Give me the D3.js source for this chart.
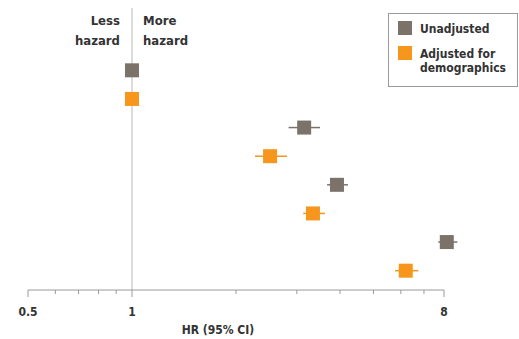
<!DOCTYPE html>
<html>
<head>
<meta charset="utf-8">
<script src="https://cdn.jsdelivr.net/npm/d3@7"></script>
<style>
    body { margin: 0; background: #fff; }
    svg text { font-family: "DejaVu Sans Condensed", "DejaVu Sans", sans-serif; fill: #333; }
</style>
</head>
<body>
<svg id="chart" width="519" height="339"></svg>
<script>
// Rows of the forest plot (row labels are cut off in the source picture)
const categories = ['Reference', 'Group 2', 'Group 3', 'Group 4'];
const seriesNames = ['Unadjusted', 'Adjusted for demographics'];

// Hazard ratios with 95% CI, one array per series
const unadjustedHR = [1, 3.15, 3.92, 8.15];
const unadjustedLow = [1, 2.84, 3.67, 7.7];
const unadjustedHigh = [1, 3.5, 4.22, 8.75];

const adjustedHR = [1, 2.51, 3.34, 6.2];
const adjustedLow = [1, 2.27, 3.13, 5.77];
const adjustedHigh = [1, 2.81, 3.62, 6.74];

const majorTicks = [0.5, 1, 8];
const minorTicks = [0.6, 0.7, 0.8, 0.9, 2, 3, 4, 5, 6, 7];

const colors = ['#7b7369', '#f7961c'];

const svg = d3.select('#chart');

const x = d3.scaleLog().domain([0.5, 8]).range([28, 444]);

// Each category gets a band; the two series sit inside it
const y = d3.scaleBand().domain(categories).range([56, 285]);
const sub = d3.scaleBand().domain(seriesNames).range([0, y.bandwidth()]);

const series = [
    { name: seriesNames[0], hr: unadjustedHR, lo: unadjustedLow, hi: unadjustedHigh },
    { name: seriesNames[1], hr: adjustedHR, lo: adjustedLow, hi: adjustedHigh },
];

// Reference line at HR = 1
svg.append('line')
    .attr('x1', x(1)).attr('x2', x(1))
    .attr('y1', 8).attr('y2', 290)
    .attr('stroke', '#b8b8b8')
    .attr('stroke-width', 1);

// x axis
const axisY = 290;
svg.append('line')
    .attr('x1', x(0.5)).attr('x2', x(8))
    .attr('y1', axisY).attr('y2', axisY)
    .attr('stroke', '#9a9a9a');

svg.selectAll('.minor')
    .data(minorTicks)
    .join('line')
    .attr('class', 'minor')
    .attr('x1', (d) => x(d)).attr('x2', (d) => x(d))
    .attr('y1', axisY).attr('y2', axisY + 4)
    .attr('stroke', '#9a9a9a');

svg.selectAll('.major')
    .data(majorTicks)
    .join('line')
    .attr('class', 'major')
    .attr('x1', (d) => x(d)).attr('x2', (d) => x(d))
    .attr('y1', axisY).attr('y2', axisY + 7)
    .attr('stroke', '#9a9a9a');

svg.selectAll('.tick-label')
    .data(majorTicks)
    .join('text')
    .attr('class', 'tick-label')
    .attr('x', (d) => x(d))
    .attr('y', 316)
    .attr('text-anchor', 'middle')
    .attr('font-size', 12)
    .attr('font-weight', 'bold')
    .text((d) => d);

svg.append('text')
    .attr('x', 218)
    .attr('y', 334)
    .attr('text-anchor', 'middle')
    .attr('font-size', 12)
    .attr('font-weight', 'bold')
    .text('HR (95% CI)');

// Less / More hazard labels
const hazard = svg.append('g').attr('font-size', 13).attr('font-weight', 'bold');
hazard.append('text').attr('x', x(1) - 12).attr('y', 25).attr('text-anchor', 'end').text('Less');
hazard.append('text').attr('x', x(1) - 12).attr('y', 45).attr('text-anchor', 'end').text('hazard');
hazard.append('text').attr('x', x(1) + 11).attr('y', 25).text('More');
hazard.append('text').attr('x', x(1) + 11).attr('y', 45).text('hazard');

// Points and CI whiskers
const size = 14;
series.forEach((s, si) => {
    const g = svg.append('g');
    const rows = categories.map((c, i) => ({ c, hr: s.hr[i], lo: s.lo[i], hi: s.hi[i] }));
    const cy = (d) => y(d.c) + sub(s.name) + sub.bandwidth() / 2;

    g.selectAll('line')
        .data(rows.filter((d) => d.lo !== d.hi))
        .join('line')
        .attr('x1', (d) => x(d.lo)).attr('x2', (d) => x(d.hi))
        .attr('y1', cy).attr('y2', cy)
        .attr('stroke', colors[si])
        .attr('stroke-width', 1.5);

    g.selectAll('rect')
        .data(rows)
        .join('rect')
        .attr('x', (d) => x(d.hr) - size / 2)
        .attr('y', (d) => cy(d) - size / 2)
        .attr('width', size)
        .attr('height', size)
        .attr('fill', colors[si]);
});

// Legend
const legend = svg.append('g');
legend.append('rect')
    .attr('x', 388.5).attr('y', 13.5)
    .attr('width', 129).attr('height', 73)
    .attr('fill', '#fff')
    .attr('stroke', '#9a9a9a');

const legendRows = [
    { lines: ['Unadjusted'], y: 28 },
    { lines: ['Adjusted for', 'demographics'], y: 53 },
];
legendRows.forEach((r, i) => {
    legend.append('rect')
        .attr('x', 398).attr('y', r.y - 7)
        .attr('width', 14).attr('height', 14)
        .attr('fill', colors[i]);
    r.lines.forEach((t, j) => {
        legend.append('text')
            .attr('x', 420)
            .attr('y', r.y + 5 + j * 14)
            .attr('font-size', 12)
            .attr('font-weight', 'bold')
            .text(t);
    });
});
</script>
</body>
</html>
